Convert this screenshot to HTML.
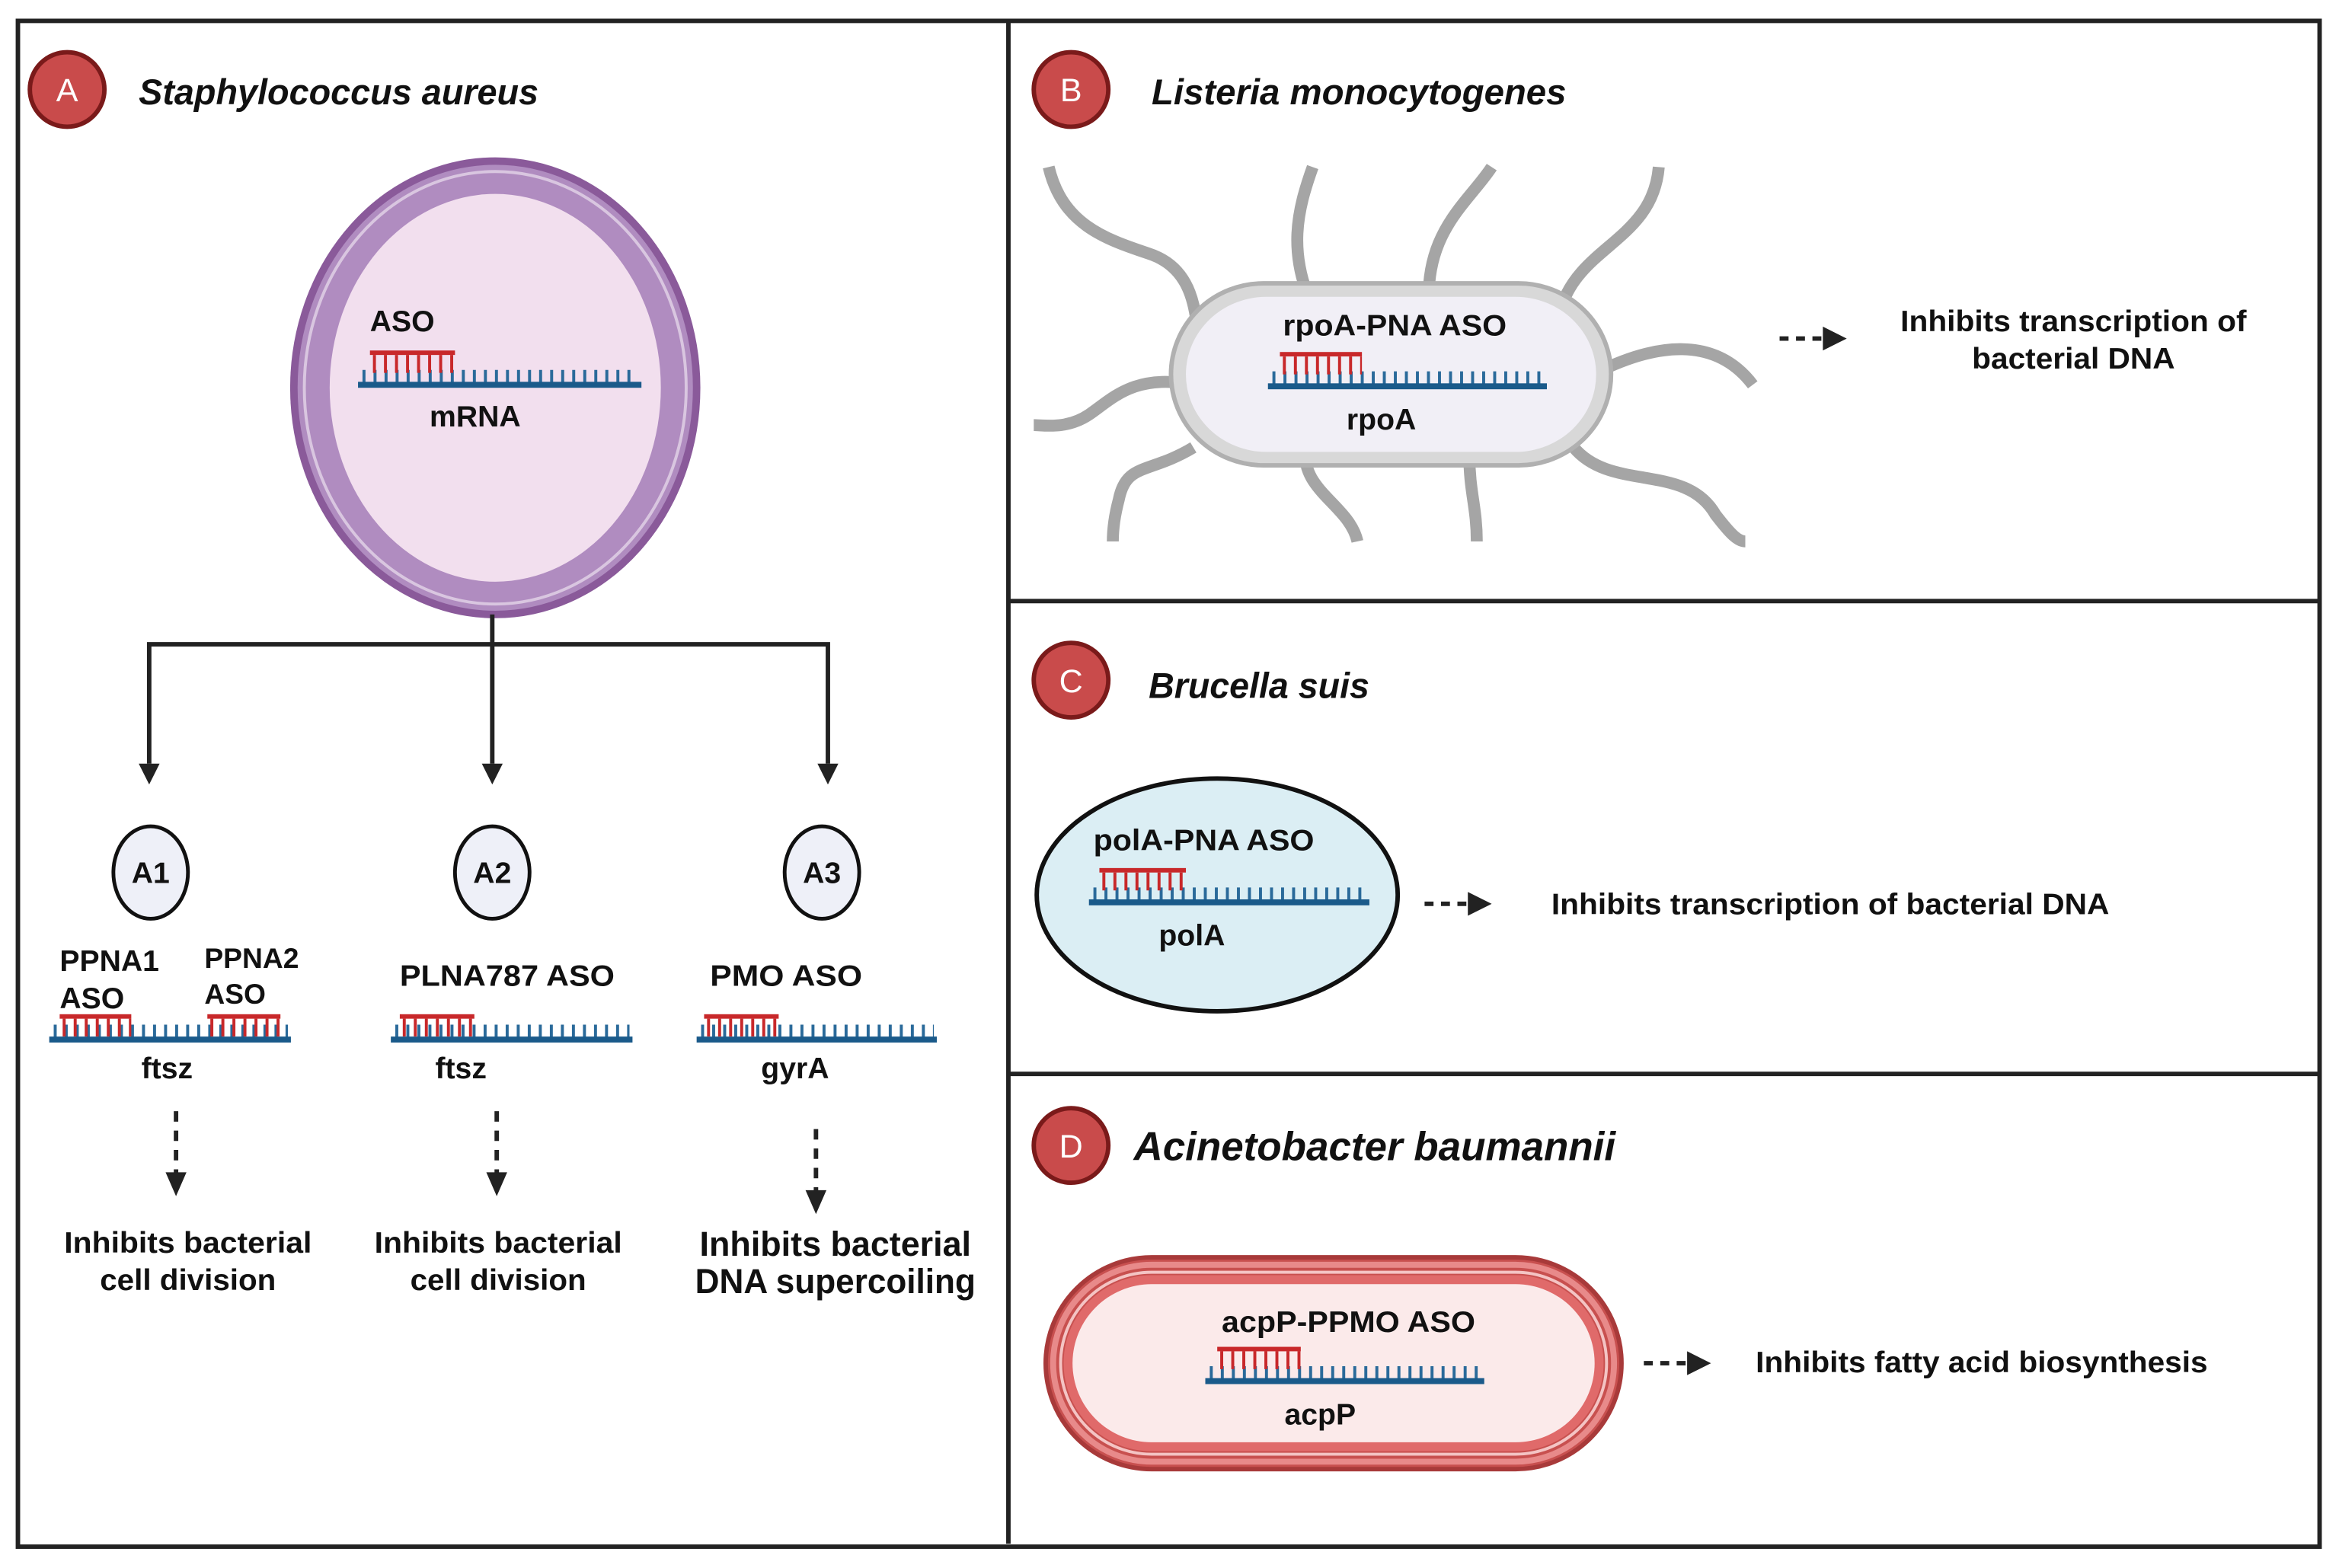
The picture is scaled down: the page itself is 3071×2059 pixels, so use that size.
<!DOCTYPE html>
<html><head><meta charset="utf-8"><style>
html,body{margin:0;padding:0;background:#fff}
svg{display:block}
text{font-family:"Liberation Sans",sans-serif;font-weight:bold;fill:#111}
.t{font-style:italic}
.bl{fill:#fff;font-weight:normal}
</style></head><body>
<svg width="3071" height="2059" viewBox="0 0 1568 1051.3" xmlns="http://www.w3.org/2000/svg">
<rect width="1568" height="1052" fill="#fff"/>
<rect x="12" y="14" width="1543" height="1023" fill="none" stroke="#222" stroke-width="3"/>
<line x1="676" y1="14" x2="676" y2="1035" stroke="#222" stroke-width="3"/>
<line x1="676" y1="403" x2="1555" y2="403" stroke="#222" stroke-width="3"/>
<line x1="676" y1="720" x2="1555" y2="720" stroke="#222" stroke-width="3"/>

<g stroke="#7a1a1a" stroke-width="3" fill="#c94b4b">
<circle cx="45" cy="60" r="25"/><circle cx="718" cy="60" r="25"/><circle cx="718" cy="456" r="25"/><circle cx="718" cy="768" r="25"/>
</g>
<text class="bl" x="45" y="68" font-size="22" text-anchor="middle">A</text>
<text class="bl" x="718" y="68" font-size="22" text-anchor="middle">B</text>
<text class="bl" x="718" y="464" font-size="22" text-anchor="middle">C</text>
<text class="bl" x="718" y="776" font-size="22" text-anchor="middle">D</text>
<text class="t" x="93" y="70" font-size="24" textLength="268" lengthAdjust="spacingAndGlyphs">Staphylococcus aureus</text>
<text class="t" x="772" y="70" font-size="24" textLength="278" lengthAdjust="spacingAndGlyphs">Listeria monocytogenes</text>
<text class="t" x="770" y="468" font-size="24" textLength="148" lengthAdjust="spacingAndGlyphs">Brucella suis</text>
<text class="t" x="760" y="778" font-size="27" textLength="323" lengthAdjust="spacingAndGlyphs">Acinetobacter baumannii</text>

<ellipse cx="332" cy="260" rx="135" ry="152" fill="#b08cc0" stroke="#8a5a9a" stroke-width="5"/>
<ellipse cx="332" cy="260" rx="128" ry="145" fill="none" stroke="#d9c6e0" stroke-width="2"/>
<ellipse cx="332" cy="260" rx="111" ry="130" fill="#f2dfee"/>
<text x="248" y="222" font-size="20">ASO</text>
<line x1="243" y1="253" x2="428" y2="253" stroke="#2a6a9a" stroke-width="10" stroke-dasharray="2 5.4"/>
<rect x="240" y="256" width="190" height="4" fill="#1a5a8a"/>
<line x1="250" y1="244" x2="305" y2="244" stroke="#c8282a" stroke-width="12" stroke-dasharray="2 5.4"/>
<rect x="248" y="235" width="57" height="3" fill="#c8282a"/>
<text x="288" y="286" font-size="20">mRNA</text>

<g stroke="#222" stroke-width="3" fill="none">
<line x1="330" y1="412" x2="330" y2="512"/>
<polyline points="100,512 100,432 555,432 555,512"/>
</g>
<path d="M93,512 L107,512 L100,526z M323,512 L337,512 L330,526z M548,512 L562,512 L555,526z" fill="#222"/>

<g fill="#eef0f8" stroke="#111" stroke-width="2.5">
<ellipse cx="101" cy="585" rx="25" ry="31"/><ellipse cx="330" cy="585" rx="25" ry="31"/><ellipse cx="551" cy="585" rx="25" ry="31"/>
</g>
<text x="101" y="592" font-size="20" text-anchor="middle">A1</text>
<text x="330" y="592" font-size="20" text-anchor="middle">A2</text>
<text x="551" y="592" font-size="20" text-anchor="middle">A3</text>

<text x="40" y="651" font-size="20">PPNA1</text><text x="40" y="676" font-size="20">ASO</text>
<text x="137" y="649" font-size="19">PPNA2</text><text x="137" y="673" font-size="19">ASO</text>
<text x="268" y="661" font-size="20" textLength="144" lengthAdjust="spacingAndGlyphs">PLNA787 ASO</text>
<text x="476" y="661" font-size="20" textLength="102" lengthAdjust="spacingAndGlyphs">PMO ASO</text>

<g>
<line x1="36" y1="692" x2="193" y2="692" stroke="#2a6a9a" stroke-width="10" stroke-dasharray="2 5.4"/>
<rect x="33" y="695" width="162" height="4" fill="#1a5a8a"/>
<line x1="42" y1="689" x2="88" y2="689" stroke="#c8282a" stroke-width="12" stroke-dasharray="2 5.4"/>
<rect x="40" y="680" width="48" height="3" fill="#c8282a"/>
<line x1="141" y1="689" x2="188" y2="689" stroke="#c8282a" stroke-width="12" stroke-dasharray="2 5.4"/>
<rect x="139" y="680" width="49" height="3" fill="#c8282a"/>
<line x1="265" y1="692" x2="422" y2="692" stroke="#2a6a9a" stroke-width="10" stroke-dasharray="2 5.4"/>
<rect x="262" y="695" width="162" height="4" fill="#1a5a8a"/>
<line x1="270" y1="689" x2="318" y2="689" stroke="#c8282a" stroke-width="12" stroke-dasharray="2 5.4"/>
<rect x="268" y="680" width="50" height="3" fill="#c8282a"/>
<line x1="470" y1="692" x2="626" y2="692" stroke="#2a6a9a" stroke-width="10" stroke-dasharray="2 5.4"/>
<rect x="467" y="695" width="161" height="4" fill="#1a5a8a"/>
<line x1="474" y1="689" x2="522" y2="689" stroke="#c8282a" stroke-width="12" stroke-dasharray="2 5.4"/>
<rect x="472" y="680" width="50" height="3" fill="#c8282a"/>
</g>
<text x="112" y="723" font-size="20" text-anchor="middle">ftsz</text>
<text x="309" y="723" font-size="20" text-anchor="middle">ftsz</text>
<text x="533" y="723" font-size="20" text-anchor="middle">gyrA</text>

<g stroke="#222" stroke-width="3" stroke-dasharray="7 6">
<line x1="118" y1="745" x2="118" y2="788"/><line x1="333" y1="745" x2="333" y2="788"/><line x1="547" y1="757" x2="547" y2="800"/>
</g>
<path d="M111,786 L125,786 L118,802z M326,786 L340,786 L333,802z M540,798 L554,798 L547,814z" fill="#222"/>

<g text-anchor="middle">
<text x="126" y="840" font-size="20" textLength="166" lengthAdjust="spacingAndGlyphs">Inhibits bacterial</text>
<text x="126" y="865" font-size="20" textLength="118" lengthAdjust="spacingAndGlyphs">cell division</text>
<text x="334" y="840" font-size="20" textLength="166" lengthAdjust="spacingAndGlyphs">Inhibits bacterial</text>
<text x="334" y="865" font-size="20" textLength="118" lengthAdjust="spacingAndGlyphs">cell division</text>
<text x="560" y="842" font-size="23" textLength="182" lengthAdjust="spacingAndGlyphs">Inhibits bacterial</text>
<text x="560" y="867" font-size="23" textLength="188" lengthAdjust="spacingAndGlyphs">DNA supercoiling</text>
</g>

<g stroke="#a5a5a5" stroke-width="8" fill="none">
<path d="M703,112 C712,150 740,160 770,170 C795,178 800,200 802,215"/>
<path d="M880,112 C870,140 862,170 882,210"/>
<path d="M1000,112 C985,135 955,155 958,205"/>
<path d="M1112,112 C1108,160 1060,165 1047,205"/>
<path d="M1070,250 C1110,230 1150,225 1175,258"/>
<path d="M800,258 C760,250 745,268 730,278 C715,288 700,285 693,285"/>
<path d="M800,300 C770,318 755,310 750,335 C746,350 746,360 746,363"/>
<path d="M875,305 C875,330 905,340 910,363"/>
<path d="M985,305 C985,330 990,340 990,363"/>
<path d="M1055,300 C1080,330 1130,310 1150,345 C1160,358 1165,363 1170,363"/>
</g>
<rect x="785" y="190" width="295" height="122" rx="62" fill="#d8d8d8" stroke="#b0b0b0" stroke-width="3"/>
<rect x="795" y="199" width="275" height="104" rx="54" fill="#f1eff6"/>
<text x="935" y="225" font-size="20" text-anchor="middle" textLength="150" lengthAdjust="spacingAndGlyphs">rpoA-PNA ASO</text>
<line x1="853" y1="254" x2="1035" y2="254" stroke="#2a6a9a" stroke-width="10" stroke-dasharray="2 5.4"/>
<rect x="850" y="257" width="187" height="4" fill="#1a5a8a"/>
<line x1="860" y1="245" x2="913" y2="245" stroke="#c8282a" stroke-width="12" stroke-dasharray="2 5.4"/>
<rect x="858" y="236" width="55" height="3" fill="#c8282a"/>
<text x="926" y="288" font-size="20" text-anchor="middle">rpoA</text>
<line x1="1193" y1="227" x2="1222" y2="227" stroke="#222" stroke-width="3" stroke-dasharray="6 5"/>
<path d="M1222,219 L1238,227 L1222,235z" fill="#222"/>
<text x="1390" y="222" font-size="20" text-anchor="middle" textLength="232" lengthAdjust="spacingAndGlyphs">Inhibits transcription of</text>
<text x="1390" y="247" font-size="20" text-anchor="middle" textLength="136" lengthAdjust="spacingAndGlyphs">bacterial DNA</text>

<ellipse cx="816" cy="600" rx="121" ry="78" fill="#dbeef4" stroke="#111" stroke-width="3"/>
<text x="733" y="570" font-size="20" textLength="148" lengthAdjust="spacingAndGlyphs">polA-PNA ASO</text>
<line x1="733" y1="600" x2="916" y2="600" stroke="#2a6a9a" stroke-width="10" stroke-dasharray="2 5.4"/>
<rect x="730" y="603" width="188" height="4" fill="#1a5a8a"/>
<line x1="739" y1="591" x2="795" y2="591" stroke="#c8282a" stroke-width="12" stroke-dasharray="2 5.4"/>
<rect x="737" y="582" width="58" height="3" fill="#c8282a"/>
<text x="799" y="634" font-size="20" text-anchor="middle">polA</text>
<line x1="955" y1="606" x2="984" y2="606" stroke="#222" stroke-width="3" stroke-dasharray="6 5"/>
<path d="M984,598 L1000,606 L984,614z" fill="#222"/>
<text x="1040" y="613" font-size="20" textLength="374" lengthAdjust="spacingAndGlyphs">Inhibits transcription of bacterial DNA</text>

<rect x="701" y="843" width="386" height="142" rx="71" fill="#c8504f" stroke="#a83a3a" stroke-width="3"/>
<rect x="706" y="848" width="376" height="132" rx="66" fill="none" stroke="#e88a8a" stroke-width="4"/>
<rect x="711" y="853" width="366" height="122" rx="61" fill="none" stroke="#f4c4c4" stroke-width="2"/>
<rect x="713" y="855" width="362" height="118" rx="59" fill="#e06a6a"/>
<rect x="719" y="861" width="350" height="106" rx="53" fill="#fbeaea"/>
<text x="904" y="893" font-size="20" text-anchor="middle" textLength="170" lengthAdjust="spacingAndGlyphs">acpP-PPMO ASO</text>
<line x1="811" y1="921" x2="993" y2="921" stroke="#2a6a9a" stroke-width="10" stroke-dasharray="2 5.4"/>
<rect x="808" y="924" width="187" height="4" fill="#1a5a8a"/>
<line x1="818" y1="912" x2="872" y2="912" stroke="#c8282a" stroke-width="12" stroke-dasharray="2 5.4"/>
<rect x="816" y="903" width="56" height="3" fill="#c8282a"/>
<text x="885" y="955" font-size="20" text-anchor="middle">acpP</text>
<line x1="1102" y1="914" x2="1131" y2="914" stroke="#222" stroke-width="3" stroke-dasharray="6 5"/>
<path d="M1131,906 L1147,914 L1131,922z" fill="#222"/>
<text x="1177" y="920" font-size="20" textLength="303" lengthAdjust="spacingAndGlyphs">Inhibits fatty acid biosynthesis</text>
</svg>
</body></html>
